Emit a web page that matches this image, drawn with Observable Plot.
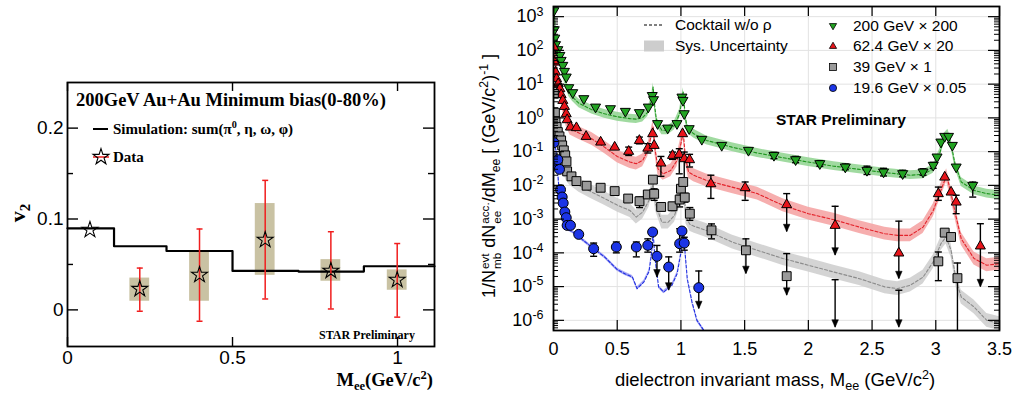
<!DOCTYPE html>
<html><head><meta charset="utf-8">
<script src="https://cdn.jsdelivr.net/npm/d3@7"></script>
<script src="https://cdn.jsdelivr.net/npm/@observablehq/plot@0.6"></script>
<style>
html,body{margin:0;padding:0;background:#fff;}
#wrap{position:relative;width:1019px;height:394px;overflow:hidden;background:#fff;}
#left,#right{position:absolute;top:0;}
#left{left:0;} #right{left:445px;}
.t{position:absolute;white-space:nowrap;line-height:1;transform:translateY(-50%);}
.c{position:absolute;white-space:nowrap;line-height:1;transform:translate(-50%,-50%);}
.rot{position:absolute;white-space:nowrap;line-height:1;transform:translate(-50%,-50%) rotate(-90deg);}
.serif{font-family:"Liberation Serif","Times New Roman",serif;font-weight:bold;}
.sans{font-family:"Liberation Sans",Arial,Helvetica,sans-serif;}
sub,sup{font-size:0.68em;line-height:0;}
.ss{display:inline-flex;flex-direction:column;font-size:0.65em;line-height:1;vertical-align:0.5em;margin-left:1px;}
</style></head><body>
<div id="wrap">
  <div id="left"></div>
  <div id="right"></div>
  <svg id="ov" width="1019" height="394" style="position:absolute;left:0;top:0;pointer-events:none"></svg>
  <div class="t serif" style="left:76px;top:100px;font-size:18.5px">200GeV Au+Au Minimum bias(0-80%)</div>
  <div class="t serif" style="left:113px;top:129px;font-size:15px">Simulation: sum(π<sup>0</sup>, η, ω, φ)</div>
  <div class="t serif" style="left:113px;top:157px;font-size:15px">Data</div>
  <div class="t serif" style="left:319px;top:335px;font-size:12px">STAR Preliminary</div>
  <div class="t serif" style="right:586px;top:380px;font-size:18.5px">M<sub>ee</sub>(GeV/c<sup>2</sup>)</div>
  <div class="rot serif" style="left:18px;top:213px;font-size:22px">v<sub>2</sub></div>

  <div class="t sans" style="left:675px;top:25px;font-size:15.5px">Cocktail w/o ρ</div>
  <div class="t sans" style="left:675px;top:46px;font-size:15.5px">Sys. Uncertainty</div>
  <div class="t sans" style="left:853px;top:26px;font-size:15.5px">200 GeV × 200</div>
  <div class="t sans" style="left:853px;top:46px;font-size:15.5px">62.4 GeV × 20</div>
  <div class="t sans" style="left:853px;top:67px;font-size:15.5px">39 GeV × 1</div>
  <div class="t sans" style="left:853px;top:88px;font-size:15.5px">19.6 GeV × 0.05</div>
  <div class="t sans" style="left:776px;top:120px;font-size:15.5px;font-weight:bold">STAR Preliminary</div>
  <div class="c sans" style="left:775px;top:380px;font-size:18.5px">dielectron invariant mass, M<sub>ee</sub> (GeV/c<sup>2</sup>)</div>
  <div class="rot sans" style="left:491px;top:176px;font-size:18px">1/N<span class="ss"><span>evt</span><span>mb</span></span> dN<span class="ss"><span>acc.</span><span>ee</span></span>/dM<sub>ee</sub> [ (GeV/c<sup>2</sup>)<sup>-1</sup> ]</div>
</div>
<script>
// ---------------- Left panel data: v2 vs Mee ----------------
const v2Mass      = [0.068, 0.219, 0.40, 0.599, 0.798, 0.999];
const v2Value     = [0.088, 0.023, 0.0385, 0.077, 0.043, 0.033];
const v2StatLow   = [null, -0.0015, -0.0125, 0.012, 0.001, -0.008];
const v2StatHigh  = [null, 0.046, 0.089, 0.1425, 0.086, 0.073];
const v2SysLow    = [null, 0.0095, 0.0095, 0.038, 0.0315, 0.0216];
const v2SysHigh   = [null, 0.035, 0.064, 0.117, 0.0553, 0.044];
const v2SysHalfBin = 0.03;
const simEdges    = [0, 0.141, 0.30, 0.50, 0.70, 0.898, 1.112];
const simV2       = [0.0897, 0.070, 0.0648, 0.0429, 0.0421, 0.048, 0.048];
const v2Ticks      = [0, 0.1, 0.2];
const v2MinorTicks = [0.05, 0.15];
const massTicksL   = [0, 0.5, 1];

// ---------------- Right panel data: dielectron spectra ----------------
const massTicksR = [0, 0.5, 1, 1.5, 2, 2.5, 3, 3.5];
const yDecades   = [1e-6, 1e-5, 1e-4, 1e-3, 1e-2, 1e-1, 1, 10, 100, 1000];

// 200 GeV x 200
const m200 = [0.003, 0.006, 0.01, 0.016, 0.034, 0.05, 0.06, 0.073, 0.086, 0.1, 0.12, 0.151, 0.238, 0.33, 0.447, 0.564, 0.674, 0.744, 0.775, 0.785, 0.817, 0.896, 0.969, 1.008, 1.016, 1.026, 1.065, 1.164, 1.32, 1.53, 1.73, 1.90, 2.09, 2.29, 2.46, 2.59, 2.74, 2.90, 2.98, 3.01, 3.04, 3.07, 3.10, 3.13, 3.16, 3.29];
const y200 = [1500, 410, 231, 148, 105, 71, 50.6, 36, 23.9, 16.2, 7.85, 5.58, 3.71, 2.09, 1.87, 1.56, 1.43, 2.09, 4.6, 3.46, 0.676, 0.499, 0.676, 4.13, 3.30, 1.33, 0.479, 0.231, 0.153, 0.109, 0.0774, 0.0575, 0.044, 0.0349, 0.0278, 0.0248, 0.0222, 0.0248, 0.0392, 0.0692, 0.192, 0.283, 0.283, 0.153, 0.0349, 0.0100];
const e200Mass  = [1.73, 1.90, 2.09, 2.29, 2.46, 2.59, 2.74, 2.90, 2.98, 3.29];
const e200Low   = [0.062, 0.047, 0.037, 0.029, 0.021, 0.019, 0.018, 0.020, 0.032, 0.0045];
const e200High  = [0.095, 0.072, 0.054, 0.043, 0.037, 0.032, 0.028, 0.031, 0.048, 0.0125];
const e200Limit = [0, 0, 0, 0, 0, 0, 0, 0, 0, 0];
const c200Mass = [0.005, 0.02, 0.04, 0.06, 0.08, 0.1, 0.12, 0.15, 0.2, 0.3, 0.4, 0.5, 0.6, 0.65, 0.7, 0.74, 0.77, 0.782, 0.795, 0.81, 0.85, 0.9, 0.95, 0.99, 1.018, 1.035, 1.05, 1.1, 1.2, 1.4, 1.6, 1.8, 2.0, 2.2, 2.4, 2.6, 2.8, 2.9, 2.98, 3.03, 3.07, 3.095, 3.12, 3.15, 3.2, 3.3, 3.4, 3.5];
const c200Val  = [1500, 200, 79, 36, 18, 10.3, 5.8, 4.1, 2.7, 1.75, 1.32, 1.08, 0.95, 0.92, 1.02, 1.49, 3.3, 8.2, 2.1, 0.76, 0.43, 0.43, 0.60, 1.33, 5.8, 1.06, 0.48, 0.34, 0.215, 0.136, 0.091, 0.066, 0.049, 0.037, 0.0298, 0.024, 0.020, 0.0213, 0.031, 0.087, 0.27, 0.34, 0.172, 0.044, 0.0126, 0.0071, 0.0057, 0.0051];
const sys200 = 1.35;

// 62.4 GeV x 20
const m62 = [0.003, 0.008, 0.016, 0.024, 0.037, 0.05, 0.06, 0.073, 0.086, 0.1, 0.107, 0.133, 0.18, 0.256, 0.37, 0.48, 0.59, 0.674, 0.74, 0.778, 0.79, 0.843, 0.934, 0.987, 1.013, 1.026, 1.068, 1.235, 1.504, 1.83, 2.21, 2.71, 3.02, 3.07, 3.12, 3.16, 3.35];
const y62 = [125, 45, 22.8, 14.5, 10.3, 7.33, 4.87, 3.30, 2.19, 1.33, 0.885, 0.535, 0.513, 0.283, 0.192, 0.136, 0.102, 0.215, 0.127, 0.34, 0.153, 0.0458, 0.0774, 0.083, 0.34, 0.0618, 0.0577, 0.0112, 0.00855, 0.00268, 0.000653, 0.000099, 0.00568, 0.0176, 0.00634, 0.0032, 0.00016];
const e62Mass  = [0.59, 0.674, 0.74, 0.843, 0.934, 0.987, 1.026, 1.068, 1.235, 1.504, 1.83, 2.21, 2.71, 3.02, 3.16, 3.35];
const e62Low   = [0.077, 0.17, 0.091, 0.0185, 0.059, 0.022, 0.0036, 0.035, 0.0041, 0.0036, 0.00042, 0.000085, 0.000017, 0.0036, 0.00145, 0.0000098];
const e62High  = [0.136, 0.27, 0.172, 0.072, 0.097, 0.122, 0.097, 0.083, 0.020, 0.0126, 0.0057, 0.0024, 0.00087, 0.0089, 0.0051, 0.00073];
const e62Limit = [0, 0, 0, 0, 0, 0, 0, 0, 0, 0, 1, 1, 1, 0, 0, 1];
const c62Mass = [0.005, 0.02, 0.04, 0.06, 0.08, 0.1, 0.13, 0.2, 0.3, 0.4, 0.5, 0.6, 0.65, 0.7, 0.74, 0.77, 0.782, 0.795, 0.82, 0.86, 0.92, 0.97, 1.0, 1.018, 1.035, 1.06, 1.1, 1.2, 1.4, 1.6, 1.8, 2.0, 2.2, 2.4, 2.6, 2.7, 2.8, 2.9, 2.98, 3.04, 3.085, 3.12, 3.16, 3.2, 3.3, 3.4, 3.5];
const c62Val  = [158, 32, 11.5, 4.1, 1.67, 0.84, 0.48, 0.355, 0.24, 0.136, 0.072, 0.049, 0.044, 0.055, 0.109, 0.34, 0.54, 0.136, 0.031, 0.022, 0.0278, 0.055, 0.172, 0.38, 0.069, 0.0248, 0.020, 0.014, 0.0089, 0.0057, 0.00257, 0.00145, 0.00096, 0.00058, 0.00037, 0.00033, 0.00033, 0.00058, 0.0018, 0.0071, 0.020, 0.0057, 0.00114, 0.00026, 0.000068, 0.000043, 0.000048];
const sys62 = 1.55;

// 39 GeV x 1
const m39 = [0.003, 0.011, 0.016, 0.024, 0.034, 0.047, 0.06, 0.068, 0.081, 0.092, 0.102, 0.107, 0.141, 0.18, 0.26, 0.37, 0.48, 0.586, 0.675, 0.74, 0.78, 0.79, 0.845, 0.934, 0.99, 1.0, 1.018, 1.03, 1.07, 1.24, 1.51, 1.83, 3.02, 3.07, 3.12, 3.17];
const y39 = [5.21, 1.43, 0.80, 0.535, 0.38, 0.283, 0.215, 0.153, 0.109, 0.0774, 0.0514, 0.026, 0.0185, 0.0134, 0.00977, 0.0085, 0.00676, 0.00407, 0.00339, 0.00537, 0.0148, 0.00562, 0.00229, 0.0024, 0.0038, 0.00794, 0.0126, 0.00437, 0.00145, 0.000465, 0.000119, 0.0000204, 0.000056, 0.000398, 0.000295, 0.0000178];
const e39Mass  = [0.586, 0.675, 0.74, 0.79, 0.845, 0.934, 0.99, 1.03, 1.07, 1.24, 1.51, 1.83, 2.21, 2.71, 3.02, 3.17];
const e39Low   = [0.0033, 0.0022, 0.0042, 0.0036, 0.0018, 0.0018, 0.0023, 0.0032, 0.00092, 0.00026, 0.000024, 0.0000055, 0.00000062, 0.00000062, 0.000015, 0.0000003];
const e39High  = [0.0050, 0.0045, 0.0068, 0.0079, 0.0029, 0.0031, 0.0051, 0.0058, 0.0022, 0.00072, 0.00026, 0.000095, 0.000016, 0.0000078, 0.000106, 0.00005];
const e39Limit = [0, 0, 0, 0, 0, 0, 0, 0, 0, 0, 1, 1, 1, 1, 0, 0];
const c39Mass = [0.005, 0.03, 0.05, 0.07, 0.1, 0.13, 0.2, 0.3, 0.4, 0.5, 0.6, 0.65, 0.7, 0.75, 0.782, 0.8, 0.85, 0.9, 0.95, 0.99, 1.018, 1.04, 1.07, 1.1, 1.2, 1.4, 1.6, 1.8, 2.0, 2.2, 2.4, 2.6, 2.7, 2.8, 2.9, 2.98, 3.04, 3.08, 3.12, 3.16, 3.2, 3.3, 3.4, 3.5];
const c39Val  = [2.0, 0.34, 0.109, 0.044, 0.022, 0.0158, 0.010, 0.0063, 0.0041, 0.0026, 0.0018, 0.00115, 0.00162, 0.0036, 0.0112, 0.0029, 0.00081, 0.00081, 0.0013, 0.0036, 0.0126, 0.00115, 0.0007, 0.00062, 0.00046, 0.00021, 0.000119, 0.000068, 0.000043, 0.000027, 0.0000172, 0.0000098, 0.0000087, 0.000011, 0.000019, 0.000054, 0.000186, 0.000295, 0.000119, 0.000015, 0.0000049, 0.0000025, 0.000001, 0.0000008];
const sys39 = 1.6;

// 19.6 GeV x 0.05
const m19 = [0.003, 0.02, 0.034, 0.047, 0.055, 0.068, 0.076, 0.089, 0.1, 0.107, 0.133, 0.198, 0.315, 0.493, 0.65, 0.74, 0.778, 0.812, 0.904, 0.99, 1.008, 1.026, 1.14];
const y19 = [0.184, 0.044, 0.0577, 0.0299, 0.00745, 0.00451, 0.00299, 0.00162, 0.0011, 0.000653, 0.000653, 0.000353, 0.000133, 0.000149, 0.000149, 0.000167, 0.000414, 0.000079, 0.000038, 0.000187, 0.000443, 0.000195, 0.0000093];
const e19Mass  = [0.315, 0.493, 0.65, 0.74, 0.778, 0.812, 0.904, 0.99, 1.026, 1.14];
const e19Low   = [0.000079, 0.0001, 0.000076, 0.000105, 0.00033, 0.000019, 0.0000078, 0.000105, 0.00012, 0.0000022];
const e19High  = [0.000195, 0.00021, 0.00021, 0.00026, 0.0005, 0.000166, 0.000076, 0.00052, 0.00029, 0.000029];
const e19Limit = [0, 0, 0, 0, 0, 1, 1, 0, 0, 1];
const c19Mass = [0.003, 0.02, 0.03, 0.04, 0.06, 0.08, 0.1, 0.15, 0.2, 0.3, 0.4, 0.5, 0.56, 0.62, 0.656, 0.71, 0.75, 0.77, 0.782, 0.795, 0.825, 0.865, 0.93, 0.97, 1.0, 1.018, 1.035, 1.05, 1.087, 1.126, 1.18];
const c19Val  = [0.186, 0.11, 0.035, 0.0112, 0.0023, 0.00081, 0.00052, 0.00042, 0.000295, 0.000148, 0.000076, 0.000032, 0.000024, 0.000019, 0.0000087, 0.0000138, 0.000028, 0.0001, 0.0004, 0.000079, 0.0000098, 0.0000069, 0.000011, 0.000024, 0.0001, 0.00052, 0.000079, 0.000017, 0.0000035, 0.000001, 0.0000005];
const sys19 = 1.12;

// ---------------- helpers ----------------
const zip = (xs, ys) => xs.map((x, i) => ({x, y: ys[i]}));
const errTable = (xs, lo, hi, lim) => xs.map((x, i) => ({x, lo: lo[i], hi: hi[i], lim: lim[i]}));
const capSym = {draw(ctx, size) { const r = Math.sqrt(size / Math.PI); ctx.moveTo(-r, 0); ctx.lineTo(r, 0); }};
const triDown = {draw(ctx, size) { const r = Math.sqrt(size / Math.PI); ctx.moveTo(-r, -0.6 * r); ctx.lineTo(r, -0.6 * r); ctx.lineTo(0, 1.15 * r); ctx.closePath(); }};
const triUp = {draw(ctx, size) { const r = Math.sqrt(size / Math.PI); ctx.moveTo(-r, 0.6 * r); ctx.lineTo(r, 0.6 * r); ctx.lineTo(0, -1.15 * r); ctx.closePath(); }};
const arrowSym = {draw(ctx, size) { const r = Math.sqrt(size / Math.PI); ctx.moveTo(-r, -2.3 * r); ctx.lineTo(r, -2.3 * r); ctx.lineTo(0, 0); ctx.closePath(); }};

// ---------------- left plot ----------------
const LW = 445, LH = 394, Lml = 67, Lmr = 11, Lmt = 82, Lmb = 48;
const lpw = LW - Lml - Lmr, lph = LH - Lmt - Lmb;
const v2Data = v2Mass.map((m, i) => ({m, v: v2Value[i], sl: v2StatLow[i], sh: v2StatHigh[i], yl: v2SysLow[i], yh: v2SysHigh[i]}));
const v2Err = v2Data.filter(d => d.sl != null);
const simData = simEdges.map((m, i) => ({m, v: simV2[i]}));
const red = "#f01e1e";

const left = Plot.plot({
  width: LW, height: LH, marginLeft: Lml, marginRight: Lmr, marginTop: Lmt, marginBottom: Lmb,
  x: {domain: [0, 1.112]},
  y: {domain: [-0.0403, 0.2502]},
  style: {fontFamily: "'Liberation Sans', Arial, sans-serif", fontSize: "19px", background: "transparent", color: "black"},
  marks: [
    Plot.rect(v2Err, {x1: d => d.m - v2SysHalfBin, x2: d => d.m + v2SysHalfBin, y1: "yl", y2: "yh", fill: "#c9c2a3"}),
    Plot.line(simData, {x: "m", y: "v", curve: "step-after", stroke: "black", strokeWidth: 2.2}),
    Plot.ruleX(v2Err, {x: "m", y1: "sl", y2: "sh", stroke: red, strokeWidth: 1.5}),
    Plot.dot(v2Err, {x: "m", y: "sl", symbol: capSym, r: 3, stroke: red, fill: "none", strokeWidth: 1.5}),
    Plot.dot(v2Err, {x: "m", y: "sh", symbol: capSym, r: 3, stroke: red, fill: "none", strokeWidth: 1.5}),
    Plot.dot(v2Data, {x: "m", y: "v", symbol: "star", r: 5, stroke: "black", fill: "none", strokeWidth: 1.1}),
    Plot.tickY(v2Ticks, {y: d => d, insetRight: lpw - 11, stroke: "black", strokeWidth: 1.4}),
    Plot.tickY(v2Ticks, {y: d => d, insetLeft: lpw - 11, stroke: "black", strokeWidth: 1.4}),
    Plot.tickY(v2MinorTicks, {y: d => d, insetRight: lpw - 6, stroke: "black", strokeWidth: 1.4}),
    Plot.tickY(v2MinorTicks, {y: d => d, insetLeft: lpw - 6, stroke: "black", strokeWidth: 1.4}),
    Plot.tickX(massTicksL, {x: d => d, insetTop: lph - 9, stroke: "black", strokeWidth: 1.4}),
    Plot.tickX(massTicksL, {x: d => d, insetBottom: lph - 9, stroke: "black", strokeWidth: 1.4}),
    Plot.frame({stroke: "black", strokeWidth: 1.8}),
    Plot.axisX(massTicksL, {tickSize: 0, tickPadding: 4, label: null, fontSize: 19, tickFormat: d => String(d)}),
    Plot.axisY(v2Ticks, {tickSize: 0, tickPadding: 4, label: null, fontSize: 19, tickFormat: d => String(d)})
  ]
});
document.getElementById("left").appendChild(left);

// ---------------- right plot ----------------
const RW = 574, RH = 394, Rml = 108, Rmr = 20, Rmt = 6, Rmb = 64;
const rpw = RW - Rml - Rmr, rph = RH - Rmt - Rmb;
const minorR = d3.range(-7, 4).flatMap(k => [2, 3, 4, 5, 6, 7, 8, 9].map(m => m * Math.pow(10, k))).filter(v => v >= 5e-7 && v <= 2000);

const series = [
  {pts: zip(m200, y200), err: errTable(e200Mass, e200Low, e200High, e200Limit), ck: zip(c200Mass, c200Val), sys: sys200,
   band: "#8fd48f", line: "#1f961f", fill: "#22a322", symbol: triDown, r: 5},
  {pts: zip(m62, y62), err: errTable(e62Mass, e62Low, e62High, e62Limit), ck: zip(c62Mass, c62Val), sys: sys62,
   band: "#f5a0a0", line: "#e3222a", fill: "#e8141a", symbol: triUp, r: 5},
  {pts: zip(m39, y39), err: errTable(e39Mass, e39Low, e39High, e39Limit), ck: zip(c39Mass, c39Val), sys: sys39,
   band: "#cdcdcd", line: "#8c8c8c", fill: "#9a9a9a", symbol: "square", r: 5},
  {pts: zip(m19, y19), err: errTable(e19Mass, e19Low, e19High, e19Limit), ck: zip(c19Mass, c19Val), sys: sys19,
   band: "#9c9cf5", line: "#1f2fe0", fill: "#1c35e6", symbol: "circle", r: 5}
];

const bandMarks = series.map(s => Plot.areaY(s.ck, {x: "x", y1: d => d.y / s.sys, y2: d => d.y * s.sys, fill: s.band, fillOpacity: 0.85, clip: true}));
const lineMarks = series.map(s => Plot.line(s.ck, {x: "x", y: "y", stroke: s.line, strokeWidth: 1.1, strokeDasharray: "3,2", clip: true}));
const errMarks = series.flatMap(s => [
  Plot.ruleX(s.err, {x: "x", y1: "lo", y2: "hi", stroke: "black", strokeWidth: 1.4, clip: true}),
  Plot.dot(s.err, {x: "x", y: "hi", symbol: capSym, r: 3.5, stroke: "black", fill: "none", strokeWidth: 1.4, clip: true}),
  Plot.dot(s.err.filter(d => !d.lim), {x: "x", y: "lo", symbol: capSym, r: 3.5, stroke: "black", fill: "none", strokeWidth: 1.4, clip: true}),
  Plot.dot(s.err.filter(d => d.lim), {x: "x", y: "lo", symbol: arrowSym, r: 3.3, fill: "black", stroke: "black", strokeWidth: 0.5})
]);
const dotMarks = series.map(s => Plot.dot(s.pts, {x: "x", y: "y", symbol: s.symbol, r: s.r, fill: s.fill, stroke: "black", strokeWidth: 1, clip: true}));

const right = Plot.plot({
  width: RW, height: RH, marginLeft: Rml, marginRight: Rmr, marginTop: Rmt, marginBottom: Rmb,
  x: {domain: [0, 3.5]},
  y: {type: "log", domain: [5e-7, 2000]},
  style: {fontFamily: "'Liberation Sans', Arial, sans-serif", fontSize: "18px", background: "transparent", color: "black"},
  marks: [
    Plot.ruleX(massTicksR, {x: d => d, stroke: "#e2e2e2", strokeWidth: 1}),
    Plot.ruleY(yDecades, {y: d => d, stroke: "#e2e2e2", strokeWidth: 1}),
    ...bandMarks,
    ...lineMarks,
    ...errMarks,
    ...dotMarks,
    Plot.tickX(massTicksR, {x: d => d, insetTop: rph - 10, stroke: "black", strokeWidth: 1.2}),
    Plot.tickX(massTicksR, {x: d => d, insetBottom: rph - 10, stroke: "black", strokeWidth: 1.2}),
    Plot.tickY(yDecades, {y: d => d, insetRight: rpw - 11, stroke: "black", strokeWidth: 1.2}),
    Plot.tickY(yDecades, {y: d => d, insetLeft: rpw - 11, stroke: "black", strokeWidth: 1.2}),
    Plot.tickY(minorR, {y: d => d, insetRight: rpw - 5, stroke: "black", strokeWidth: 1}),
    Plot.tickY(minorR, {y: d => d, insetLeft: rpw - 5, stroke: "black", strokeWidth: 1}),
    Plot.frame({stroke: "black", strokeWidth: 1.8}),
    Plot.axisX(massTicksR, {tickSize: 0, tickPadding: 12, label: null, fontSize: 18, tickFormat: d => String(d)}),
    Plot.axisY(yDecades, {tickSize: 0, tickPadding: 10, label: null, fontSize: 18, tickFormat: d => "10^" + Math.round(Math.log10(d))})
  ]
});
document.getElementById("right").appendChild(right);

// superscript exponents on the log axis labels
d3.select(right).selectAll("text").each(function() {
  const m = /^10\^(-?\d+)$/.exec(this.textContent);
  if (!m) return;
  const sel = d3.select(this);
  sel.text(null);
  sel.append("tspan").text("10");
  sel.append("tspan").attr("dy", "-0.55em").attr("font-size", "12.5px").text(m[1]);
});

// ---------------- legend glyphs ----------------
const ov = d3.select("#ov");
ov.append("line").attr("x1", 93).attr("x2", 108).attr("y1", 129).attr("y2", 129).attr("stroke", "black").attr("stroke-width", 2);
ov.append("line").attr("x1", 93).attr("x2", 109).attr("y1", 157).attr("y2", 157).attr("stroke", red).attr("stroke-width", 1.5);
ov.append("path").attr("d", d3.symbol(d3.symbolStar, Math.PI * 25)()).attr("transform", "translate(101,157)").attr("fill", "none").attr("stroke", "black").attr("stroke-width", 1.1);
ov.append("line").attr("x1", 644).attr("x2", 664).attr("y1", 25).attr("y2", 25).attr("stroke", "black").attr("stroke-width", 1).attr("stroke-dasharray", "3,2");
ov.append("rect").attr("x", 644).attr("y", 40.5).attr("width", 20).attr("height", 11).attr("fill", "#cdcdcd");
ov.append("path").attr("d", "M-3.6,-2.4L3.6,-2.4L0,3.8Z").attr("transform", "translate(833,26)").attr("fill", "#22a322").attr("stroke", "black").attr("stroke-width", 0.8);
ov.append("path").attr("d", "M-3.6,2.4L3.6,2.4L0,-3.8Z").attr("transform", "translate(833,46)").attr("fill", "#e8141a").attr("stroke", "black").attr("stroke-width", 0.8);
ov.append("rect").attr("x", 829.5).attr("y", 63.5).attr("width", 7).attr("height", 7).attr("fill", "#9a9a9a").attr("stroke", "black").attr("stroke-width", 0.8);
ov.append("circle").attr("cx", 833).attr("cy", 88).attr("r", 3.6).attr("fill", "#1c35e6").attr("stroke", "black").attr("stroke-width", 0.8);
</script>
</body></html>
